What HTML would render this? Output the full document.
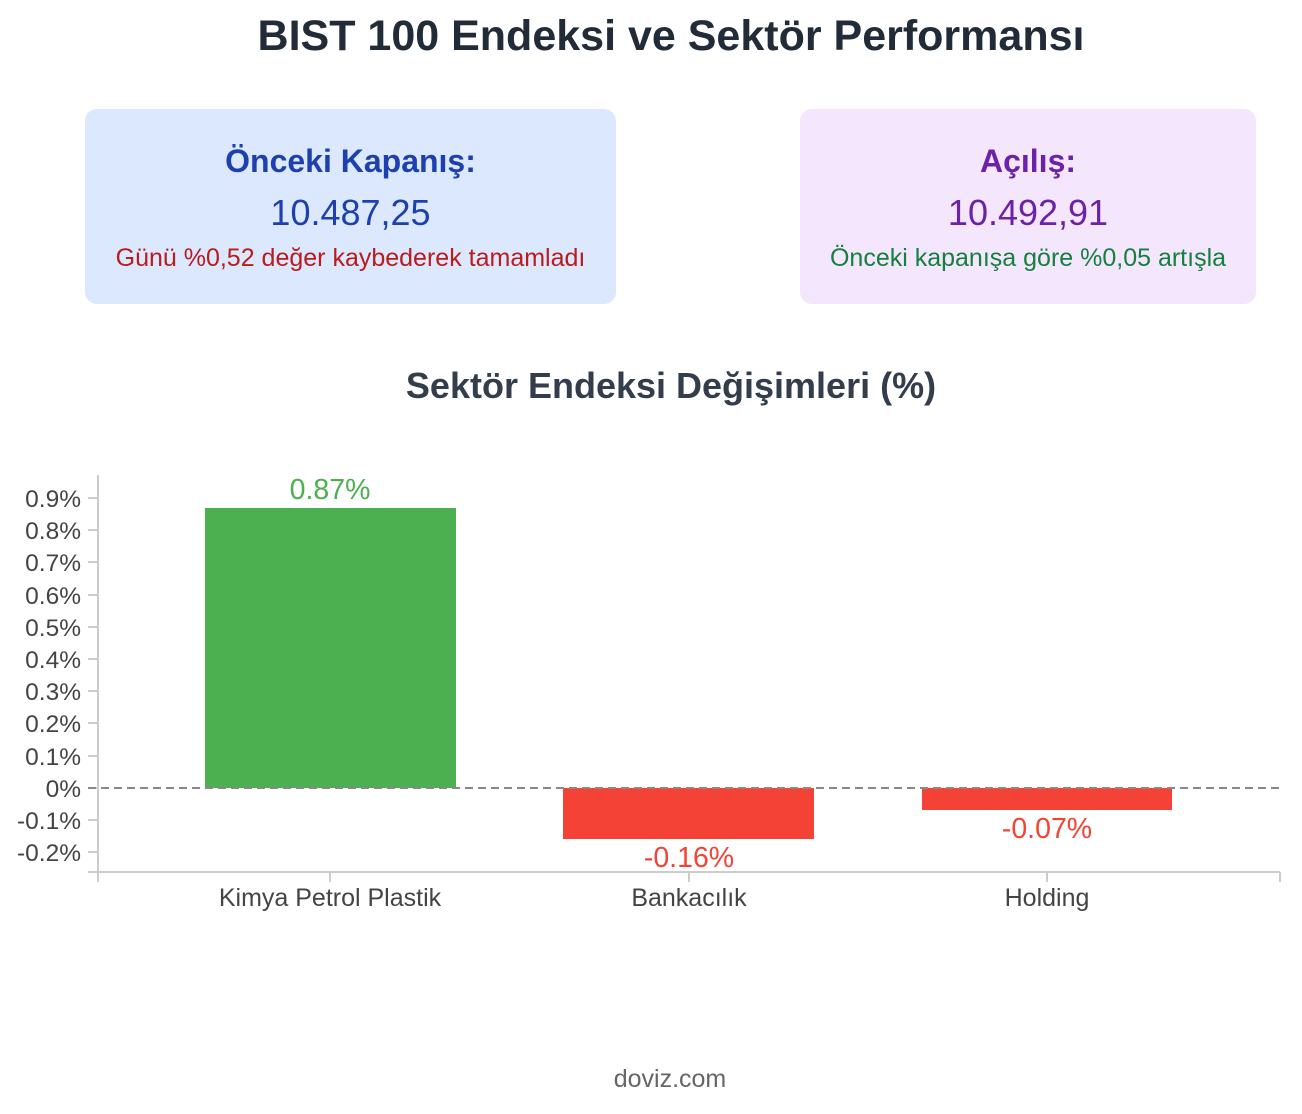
<!DOCTYPE html>
<html><head><meta charset="utf-8"><style>
body{margin:0;width:1302px;height:1114px;background:#fff;font-family:"Liberation Sans",sans-serif;position:relative;overflow:hidden}
.t{position:absolute;left:0;width:1342px;text-align:center}
.card{position:absolute;top:109px;height:195px;border-radius:12px;text-align:center}
.card .h{position:absolute;left:0;right:0;top:34px;font-size:32px;font-weight:bold}
.card .v{position:absolute;left:0;right:0;top:83px;font-size:36px}
.card .s{position:absolute;left:0;right:0;top:135px;font-size:25px}
</style></head><body>
<div class="t" style="top:12px;font-size:43px;font-weight:bold;color:#222b38;">BIST 100 Endeksi ve Sektör Performansı</div>
<div class="card" style="left:85px;width:531px;background:#dbe8fd">
<div class="h" style="color:#1e40af">Önceki Kapanış:</div>
<div class="v" style="color:#1e40af">10.487,25</div>
<div class="s" style="color:#b91c1c">Günü %0,52 değer kaybederek tamamladı</div></div>
<div class="card" style="left:800px;width:456px;background:#f3e6fd">
<div class="h" style="color:#6b21a8">Açılış:</div>
<div class="v" style="color:#6b21a8">10.492,91</div>
<div class="s" style="color:#15803d">Önceki kapanışa göre %0,05 artışla</div></div>
<div class="t" style="top:365px;font-size:36px;font-weight:bold;color:#333d4c;">Sektör Endeksi Değişimleri (%)</div>
<svg style="position:absolute;left:0;top:0" width="1302" height="1114" font-family="Liberation Sans, sans-serif">
<g stroke="#ccc" stroke-width="2" fill="none">
<path d="M98 475V872M88 872H1280M98 872v10M330 872v10M689 872v10M1047 872v10M1280 872v10"/>
<path d="M88 498h10M88 530h10M88 562h10M88 595h10M88 627h10M88 659h10M88 691h10M88 723h10M88 756h10M88 788h10M88 820h10M88 852h10"/>
</g>
<g fill="#444" font-size="24.5" text-anchor="end">
<text x="81" y="507">0.9%</text><text x="81" y="539">0.8%</text><text x="81" y="571">0.7%</text><text x="81" y="604">0.6%</text><text x="81" y="636">0.5%</text><text x="81" y="668">0.4%</text><text x="81" y="700">0.3%</text><text x="81" y="732">0.2%</text><text x="81" y="765">0.1%</text><text x="81" y="797">0%</text><text x="81" y="829">-0.1%</text><text x="81" y="861">-0.2%</text>
</g>
<rect x="205" y="508" width="251" height="280" fill="#4caf50"/>
<rect x="563" y="788" width="251" height="51" fill="#f44336"/>
<rect x="922" y="788" width="250" height="22" fill="#f44336"/>
<line x1="88" y1="788" x2="1280" y2="788" stroke="#888" stroke-width="2" stroke-dasharray="8,5"/>
<g font-size="28.5" text-anchor="middle">
<text x="330" y="499" fill="#4caf50">0.87%</text>
<text x="689" y="867" fill="#f44336">-0.16%</text>
<text x="1047" y="838" fill="#f44336">-0.07%</text>
</g>
<g font-size="25" fill="#444" text-anchor="middle">
<text x="330" y="906">Kimya Petrol Plastik</text><text x="689" y="906">Bankacılık</text><text x="1047" y="906">Holding</text>
<text x="670" y="1087" fill="#666">doviz.com</text>
</g>
</svg>
</body></html>
